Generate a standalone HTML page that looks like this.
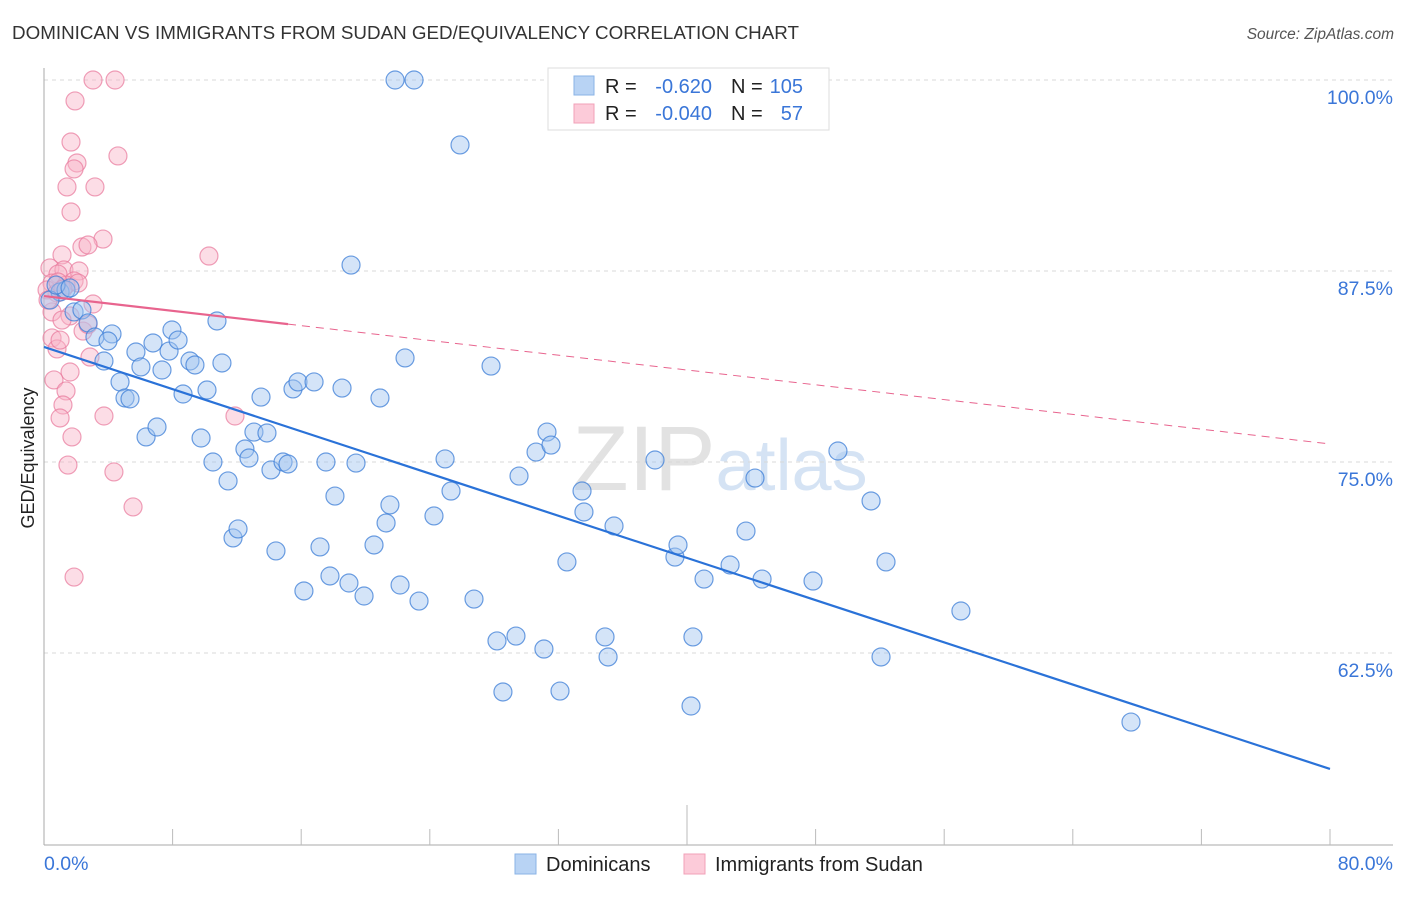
<!DOCTYPE html>
<html><head><meta charset="utf-8"><style>
body{margin:0;background:#fff;font-family:"Liberation Sans",sans-serif;}
svg text{font-family:"Liberation Sans",sans-serif;}
</style></head><body>
<svg id="chart" width="1406" height="892" viewBox="0 0 1406 892" xmlns="http://www.w3.org/2000/svg">
<text x="12" y="39" font-size="18" fill="#333" textLength="787" lengthAdjust="spacingAndGlyphs">DOMINICAN VS IMMIGRANTS FROM SUDAN GED/EQUIVALENCY CORRELATION CHART</text>
<text x="1394" y="39" font-size="15.5" font-style="italic" fill="#555" text-anchor="end">Source: ZipAtlas.com</text>
<text x="720" y="490" font-size="92" fill="#e6e6e6" text-anchor="middle" font-family="Liberation Serif"><tspan fill="#e2e2e2">ZIP</tspan><tspan fill="#d5e3f4" font-family="Liberation Sans" font-size="72">atlas</tspan></text>
<g id="grid"></g>
<g id="axes"></g>
<g id="pts"></g>
<g id="trends"></g>
<text transform="translate(34,458) rotate(-90)" font-size="18" fill="#222" text-anchor="middle">GED/Equivalency</text>
<g>
<rect x="548" y="68" width="281" height="62" fill="#fff" stroke="#ddd"/>
<rect x="574" y="76" width="20" height="19" fill="#b8d3f4" stroke="#8ab3e6"/>
<rect x="574" y="104" width="20" height="19" fill="#fccbd9" stroke="#f2a0b8"/>
<text x="605" y="93" font-size="20" fill="#222">R =</text>
<text x="712" y="93" font-size="20" fill="#3a76d8" text-anchor="end">-0.620</text>
<text x="731" y="93" font-size="20" fill="#222">N =</text>
<text x="803" y="93" font-size="20" fill="#3a76d8" text-anchor="end">105</text>
<text x="605" y="120" font-size="20" fill="#222">R =</text>
<text x="712" y="120" font-size="20" fill="#3a76d8" text-anchor="end">-0.040</text>
<text x="731" y="120" font-size="20" fill="#222">N =</text>
<text x="803" y="120" font-size="20" fill="#3a76d8" text-anchor="end">57</text>
</g>
<g>
<rect x="515" y="854" width="21" height="20" fill="#b8d3f4" stroke="#8ab3e6"/>
<text x="546" y="871" font-size="20" fill="#222">Dominicans</text>
<rect x="684" y="854" width="21" height="20" fill="#fccbd9" stroke="#f2a0b8"/>
<text x="715" y="871" font-size="20" fill="#222">Immigrants from Sudan</text>
</g>
</svg>
<script>
const yTicks=[100,87.5,75,62.5];
const yTickLabels=["100.0%","87.5%","75.0%","62.5%"];
const xTicks=[0,8,16,24,32,40,48,56,64,72,80];
const xLabels=["0.0%","80.0%"];
const blueX=[21.84,23.02,25.88,19.10,10.76,1.0,1.37,1.87,2.36,2.74,3.17,4.23,3.98,3.73,4.73,5.04,5.35,5.72,6.03,6.35,6.78,7.03,7.34,7.78,7.96,8.34,8.65,9.08,9.39,9.77,10.14,10.51,11.07,11.45,11.76,12.07,12.5,12.75,13.06,13.5,13.87,14.12,14.43,14.87,15.18,15.49,15.8,16.17,16.8,17.17,17.54,17.79,18.1,18.54,18.97,19.41,19.91,20.53,20.9,21.28,21.52,22.15,22.46,23.33,24.26,24.95,25.32,26.75,27.81,28.18,28.55,29.36,29.55,30.61,31.1,31.29,31.54,32.1,32.53,33.47,33.59,34.9,35.09,35.46,38.01,39.25,39.44,40.25,40.37,41.06,42.68,43.67,44.23,44.67,47.84,49.39,51.45,52.07,52.38,57.04,67.62,0.37,0.75,1.62];
const blueY=[100,100,95.75,87.89,84.23,86.13,86.26,84.82,84.95,84.1,83.18,83.38,82.92,81.61,80.24,79.19,79.13,82.2,81.22,76.64,82.79,77.29,81.02,82.26,83.64,82.98,79.45,81.61,81.35,76.57,79.71,75.0,81.48,73.76,70.03,70.62,75.85,75.26,76.96,79.25,76.9,74.48,69.18,75.0,74.87,79.78,80.24,66.56,80.24,69.44,75.0,67.54,72.77,79.84,67.08,74.93,66.23,69.57,79.19,71.01,72.19,66.95,81.81,65.9,71.47,75.2,73.1,66.03,81.28,63.29,59.95,63.61,74.08,75.65,62.76,76.96,76.11,60.01,68.46,73.1,71.73,63.55,62.24,70.81,75.13,68.78,69.57,59.03,63.55,67.34,68.26,70.48,73.95,67.34,67.21,75.72,72.45,62.24,68.46,65.25,57.98,85.6,86.58,86.39];
const pinkX=[3.05,4.42,1.93,1.68,4.6,2.05,1.87,1.43,3.17,1.68,3.67,2.36,2.74,1.12,10.26,0.37,1.24,2.18,0.87,1.87,0.5,1.37,2.12,0.19,0.81,3.05,0.5,1.62,1.12,2.43,0.5,0.81,2.86,1.62,0.62,1.37,1.18,11.88,3.73,1.0,1.74,1.49,4.35,5.54,1.87,0.87,0.25,1.18,2.74,1.0];
const pinkY=[100,100,98.63,95.94,95.03,94.57,94.18,93.0,93.0,91.36,89.59,89.07,89.2,88.55,88.48,87.7,87.57,87.5,87.3,86.85,86.71,86.58,86.71,86.26,86.06,85.34,84.82,84.56,84.29,83.57,83.12,82.4,81.87,80.89,80.37,79.65,78.73,78.01,78.01,77.88,76.64,74.8,74.35,72.06,67.47,86.78,85.6,86.32,84.0,82.98];
const blueTrend=[82.53,54.91];
const pinkTrend=[85.86,76.18];
const pinkSolidEnd=15.18;
const X=v=>44+v*1286/80;
const Y=v=>80+(100-v)*15.28;
const NS="http://www.w3.org/2000/svg";
function mk(tag,attrs,parent){const e=document.createElementNS(NS,tag);for(const k in attrs)e.setAttribute(k,attrs[k]);document.getElementById(parent).appendChild(e);return e;}
yTicks.forEach((t,i)=>{
 const l=mk('line',{x1:44,x2:1393,y1:Y(t),y2:Y(t),stroke:'#d8d8d8','stroke-dasharray':'4,4'},'grid');
 
 
 const tx=mk('text',{x:1393,y:Y(t)+24,'font-size':19.5,fill:'#3a76d8','text-anchor':'end'},'grid');
 tx.textContent=yTickLabels[i];
 
 
});
const ya=mk('line',{x1:44,x2:44,y1:68,y2:845,stroke:'#aaa'},'axes');


const xa=mk('line',{x1:44,x2:1393,y1:845,y2:845,stroke:'#aaa'},'axes');


xTicks.forEach((t,i)=>{
 if(i===0)return;
 const tk=mk('line',{x1:X(t),x2:X(t),y1:(t===40?805:829),y2:845,stroke:'#bbb'},'axes');
 
 
});
const xl0=mk('text',{x:44,y:870,'font-size':19.5,fill:'#3a76d8'},'axes');xl0.textContent=xLabels[0];


const xl1=mk('text',{x:1393,y:870,'font-size':19.5,fill:'#3a76d8','text-anchor':'end'},'axes');xl1.textContent=xLabels[1];


pinkX.forEach((v,i)=>{
 const c=mk('circle',{cx:X(v),cy:Y(pinkY[i]),r:9,fill:'rgba(248,180,200,0.45)',stroke:'rgba(232,120,155,0.7)','stroke-width':1.2},'pts');
 
 
});
blueX.forEach((v,i)=>{
 const c=mk('circle',{cx:X(v),cy:Y(blueY[i]),r:9,fill:'rgba(160,195,240,0.45)',stroke:'rgba(60,125,215,0.75)','stroke-width':1.2},'pts');
 
 
});
const bt=mk('line',{x1:X(0),y1:Y(blueTrend[0]),x2:X(80),y2:Y(blueTrend[1]),stroke:'#2a72d8','stroke-width':2.2},'trends');


const pyAt=v=>pinkTrend[0]+(pinkTrend[1]-pinkTrend[0])*v/80;
const ps=mk('line',{x1:X(0),y1:Y(pinkTrend[0]),x2:X(pinkSolidEnd),y2:Y(pyAt(pinkSolidEnd)),stroke:'#e8648e','stroke-width':2.2},'trends');


const pd=mk('line',{x1:X(pinkSolidEnd),y1:Y(pyAt(pinkSolidEnd)),x2:X(80),y2:Y(pinkTrend[1]),stroke:'#e8648e','stroke-width':1,'stroke-dasharray':'8,6'},'trends');


</script>
</body></html>
